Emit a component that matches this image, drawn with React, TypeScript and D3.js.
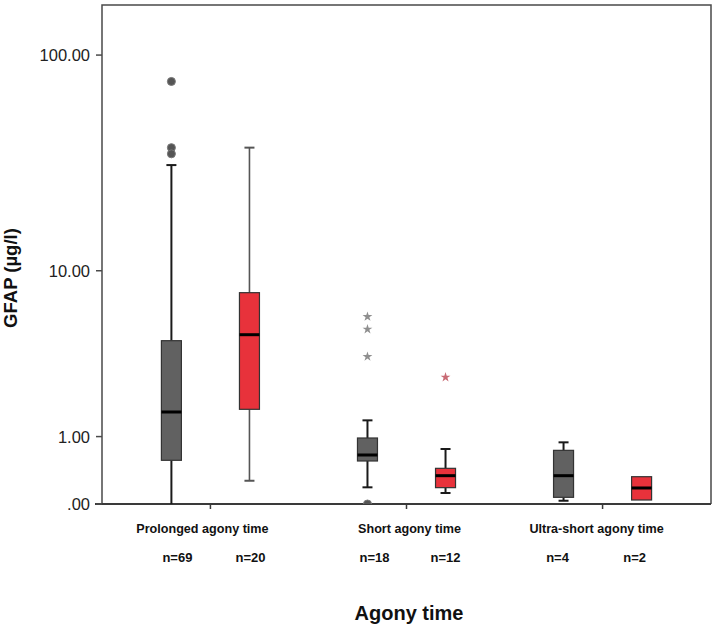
import React from "react";
import * as d3 from "d3";

const groups = ["Prolonged agony time", "Short agony time", "Ultra-short agony time"];
const seriesKeys = [0, 1];
const seriesFill = ["#616161", "#e8323b"];
const boxGroup = [0, 0, 1, 1, 2, 2];
const boxSeries = [0, 1, 0, 1, 0, 1];
const nLabels = ["n=69", "n=20", "n=18", "n=12", "n=4", "n=2"];
const whiskerLow = [0, 0.27, 0.187, 0.12, 0.034, 0.042];
const q1 = [0.567, 1.647, 0.556, 0.183, 0.071, 0.042];
const median = [1.575, 4.7, 0.655, 0.338, 0.338, 0.179];
const q3 = [4.36, 7.78, 0.971, 0.443, 0.736, 0.324];
const whiskerHigh = [31.6, 38.0, 1.363, 0.76, 0.885, 0.324];
const circleBox = [0, 0, 0, 2];
const circleValue = [76, 38, 35.6, 0];
const starBox = [2, 2, 2, 3];
const starValue = [5.86, 5.03, 3.55, 2.68];
const starColor = ["#8f8f8f", "#c86a74"];
const yTickValues = [0, 1, 10, 100];
const yTickLabels = [".00", "1.00", "10.00", "100.00"];

const W = 719;
const H = 625;
const left = 102;
const right = 711;
const top = 5;
const bottom = 504;
const font = "'Liberation Sans', Arial, Helvetica, sans-serif";
const groupLabelShift = [-8, 3, -6];
const nLabelShift = [6, 1, 7, 0, -6, -7];

export default function App() {
  const y = d3.scaleSymlog().constant(1).domain([0, 168]).range([bottom, top]);
  const x = d3.scaleBand<string>().domain(groups).range([left, right]).paddingInner(0).paddingOuter(0.053);
  const xi = d3.scalePoint<number>().domain(seriesKeys).range([0, x.bandwidth()]).padding(0.756);
  const cx = (i: number) => (x(groups[boxGroup[i]]) as number) + (xi(boxSeries[i]) as number);
  const bw = 20;
  const cw = 10;
  const star = d3.symbol().type(d3.symbolStar).size(30)();

  return (
    <div style={{ position: "fixed", left: 0, top: 0 }}>
      <svg width={W} height={H} style={{ display: "block", background: "#fff" }} fontFamily={font}>
        <defs>
          <clipPath id="plotClip">
            <rect x={left} y={top} width={right - left} height={bottom - top} />
          </clipPath>
        </defs>
        <path
          d={`M${left},${bottom}V${top}H${right}V${bottom}`}
          fill="none"
          stroke="#4a4a4a"
          strokeWidth={1.5}
        />
        <line x1={left - 7} x2={right} y1={bottom} y2={bottom} stroke="#3a3a3a" strokeWidth={1.8} />
        {yTickValues.map((v, i) => (
          <g key={i}>
            <line x1={left - 6} x2={left} y1={y(v)} y2={y(v)} stroke="#4a4a4a" strokeWidth={1.5} />
            <text x={90} y={y(v)} dy="0.36em" textAnchor="end" fontSize={16.5} fill="#222">
              {yTickLabels[i]}
            </text>
          </g>
        ))}
        {groups.map((g, gi) => {
          const c = (x(g) as number) + x.bandwidth() / 2;
          return (
            <g key={g}>
              <line x1={c} x2={c} y1={bottom} y2={bottom + 5} stroke="#3a3a3a" strokeWidth={1.5} />
              <text x={c + groupLabelShift[gi]} y={533} textAnchor="middle" fontSize={12.6} fontWeight="bold" fill="#111">
                {g}
              </text>
            </g>
          );
        })}
        <g clipPath="url(#plotClip)">
          {nLabels.map((_, i) => {
            const c = cx(i);
            const dark = boxSeries[i] === 0 || boxGroup[i] > 0;
            const wStroke = dark ? "#1a1a1a" : "#555";
            const wWidth = dark ? 2 : 1.6;
            return (
              <g key={i}>
                {whiskerHigh[i] > q3[i] && (
                  <>
                    <line x1={c} x2={c} y1={y(q3[i])} y2={y(whiskerHigh[i])} stroke={wStroke} strokeWidth={wWidth} />
                    <line x1={c - cw / 2} x2={c + cw / 2} y1={y(whiskerHigh[i])} y2={y(whiskerHigh[i])} stroke={wStroke} strokeWidth={2} />
                  </>
                )}
                {whiskerLow[i] < q1[i] && (
                  <>
                    <line x1={c} x2={c} y1={y(q1[i])} y2={y(whiskerLow[i])} stroke={wStroke} strokeWidth={wWidth} />
                    {whiskerLow[i] > 0 && (
                      <line x1={c - cw / 2} x2={c + cw / 2} y1={y(whiskerLow[i])} y2={y(whiskerLow[i])} stroke={wStroke} strokeWidth={2} />
                    )}
                  </>
                )}
                <rect
                  x={c - bw / 2}
                  y={y(q3[i])}
                  width={bw}
                  height={y(q1[i]) - y(q3[i])}
                  fill={seriesFill[boxSeries[i]]}
                  stroke="#333"
                  strokeWidth={1.2}
                />
                <line x1={c - bw / 2} x2={c + bw / 2} y1={y(median[i])} y2={y(median[i])} stroke="#000" strokeWidth={3} />
              </g>
            );
          })}
          {circleValue.map((v, i) => (
            <circle key={i} cx={cx(circleBox[i])} cy={y(v)} r={4} fill="#555" stroke="#777" strokeWidth={1} />
          ))}
          {starValue.map((v, i) => (
            <path
              key={i}
              d={star as string}
              transform={`translate(${cx(starBox[i])},${y(v)})`}
              fill={starColor[boxSeries[starBox[i]]]}
            />
          ))}
        </g>
        {nLabels.map((t, i) => (
          <text key={i} x={cx(i) + nLabelShift[i]} y={562} textAnchor="middle" fontSize={13} fontWeight="bold" fill="#111">
            {t}
          </text>
        ))}
        <text x={409} y={620} textAnchor="middle" fontSize={20} fontWeight="bold" fill="#111">
          Agony time
        </text>
        <text
          transform={`translate(17,278) rotate(-90)`}
          textAnchor="middle"
          fontSize={18.5}
          fontWeight="bold"
          fill="#111"
        >
          GFAP (µg/l)
        </text>
      </svg>
    </div>
  );
}
